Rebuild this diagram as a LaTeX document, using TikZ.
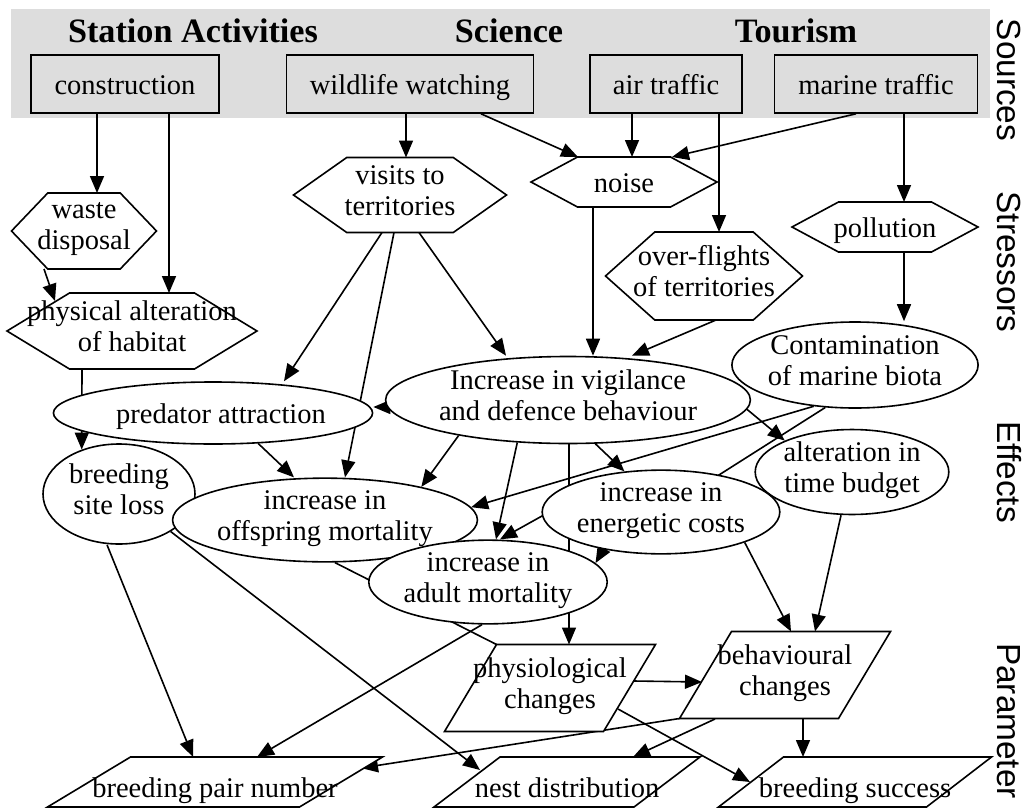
\documentclass[tikz,border=0pt]{standalone}
\usepackage{fontspec}
\setmainfont{Liberation Serif}
\setsansfont{Liberation Sans}
\usetikzlibrary{shapes.geometric}
\usetikzlibrary{arrows.meta}
\usetikzlibrary{calc}
\definecolor{bandgray}{RGB}{221,221,221}
\pgfdeclarelayer{band}
\pgfdeclarelayer{links}
\pgfdeclarelayer{shapes}
\pgfsetlayers{band,links,shapes,main}
\newcommand{\drawhex}[1]{\draw[outline] (#1.west) -- ($(#1.north west)!.25!(#1.north east)$) -- ($(#1.north west)!.75!(#1.north east)$) -- (#1.east) -- ($(#1.south west)!.75!(#1.south east)$) -- ($(#1.south west)!.25!(#1.south east)$) -- cycle;}
\newcommand{\drawpar}[2]{\draw[outline] (#1.south west) -- ([xshift=#2]#1.north west) -- (#1.north east) -- ([xshift=-#2]#1.south east) -- cycle;}

\begin{document}
\begin{tikzpicture}[x=1pt,y=-1pt,
  every node/.style={font=\fontsize{28.5}{31}\selectfont,align=center,inner sep=0pt,
    execute at begin node=\strut,execute at end node=\strut},
  one/.style={text height=24pt,text depth=3pt},
  low/.style={text height=30pt,text depth=0pt},
  dims/.style 2 args={minimum width=#1pt,minimum height=#2pt},
  title/.style={font=\fontsize{34.2}{36}\selectfont\bfseries,text height=24pt,text depth=6pt},
  level/.style={font=\sffamily\fontsize{33.4}{36}\selectfont,rotate=-90,text height=24pt,text depth=0pt},
  outline/.style={draw,fill=white,line width=1.6pt},
  source/.style={draw,fill=bandgray,line width=1.6pt,minimum height=58pt,one},
  stressor/.style={outer sep=0pt},
  effect/.style={ellipse,outline},
  param/.style={outer sep=0pt},
  link/.style={line width=1.6pt},
  arr/.style={link,-{Triangle[length=17pt,width=14pt]}}]
 \useasboundingbox (0,0) rectangle (1027,808);
 \begin{pgfonlayer}{band}
 \fill[bandgray] (11,9) rectangle (990,118);
 \end{pgfonlayer}

 \node[title] (stationtitle) at (193,34) {Station Activities};
 \node[title] (sciencetitle) at (509,34) {Science};
 \node[title] (tourismtitle) at (796,34) {Tourism};

 \node[source,minimum width=188pt] (construction) at (125,84) {construction};
 \node[source,minimum width=247pt] (wildlife) at (410,84) {wildlife watching};
 \node[source,minimum width=152pt] (air) at (666,84) {air traffic};
 \node[source,minimum width=203pt] (marine) at (876,84) {marine traffic};

 \node[stressor,dims={145}{76}] (waste) at (84,231) {waste\\disposal};
 \node[stressor,dims={250}{76}] (physical) at (132,331) {physical alteration\\of habitat};
 \node[stressor,dims={213}{75}] (visits) at (400,195) {visits to\\territories};
 \node[stressor,one,dims={186}{50}] (noise) at (624,182) {noise};
 \node[stressor,dims={197}{88}] (overflights) at (704,276) {over-flights\\of territories};
 \node[stressor,one,dims={186}{50}] (pollution) at (885,227) {pollution};

 \node[effect,dims={236}{86}] (contam) at (855,365) {Contamination\\of marine biota};
 \node[effect,dims={301}{87}] (vigil) at (568,400) {Increase in vigilance\\and defence behaviour};
 \node[effect,one,dims={239}{62}] (predator) at (213,413) {\hspace{16pt}predator attraction};
 \node[effect,dims={152}{100}] (siteloss) at (119,494) {breeding\\site loss};
 \node[effect,dims={263}{75}] (offspring) at (325,520) {increase in\\offspring mortality};
 \node[effect,dims={186}{81}] (timebudget) at (852,472) {alteration in\\time budget};
 \node[effect,dims={237}{71}] (energetic) at (661,512) {increase in\\energetic costs};
 \node[effect,dims={226}{70}] (adult) at (488,582) {increase in\\adult mortality};

 \node[param,dims={211}{87}] (physio) at (550,688) {physiological\\changes};
 \node[param,dims={211}{87}] (behav) at (785,675) {behavioural\\changes};
 \node[param,low,dims={335}{50}] (pairnum) at (215,782) {breeding pair number};
 \node[param,low,dims={266}{50}] (nest) at (567,782) {nest distribution};
 \node[param,low,dims={273}{50}] (success) at (855,782) {breeding success};

 \node[level] (sources) at (1009,80) {Sources};
 \node[level] (stressors) at (1009,262) {Stressors};
 \node[level] (effects) at (1009,472) {Effects};
 \node[level] (parameter) at (1009,721) {Parameter};

 \begin{pgfonlayer}{shapes}
 \drawhex{waste}
 \drawhex{physical}
 \drawhex{visits}
 \drawhex{noise}
 \drawhex{overflights}
 \drawhex{pollution}
 \drawpar{physio}{52pt}
 \drawpar{behav}{52pt}
 \drawpar{pairnum}{83pt}
 \drawpar{nest}{66pt}
 \drawpar{success}{65pt}
 \end{pgfonlayer}

 \begin{pgfonlayer}{links}
 \draw[arr] ([xshift=-28pt]construction.south) -- ([xshift=13pt]waste.north);
 \draw[arr] ([xshift=44pt]construction.south) -- ([xshift=37pt]physical.north);
 \draw[arr] ([xshift=-40pt]waste.south) -- ([xshift=-77pt,yshift=-8pt]physical.north);
 \draw[arr] ([xshift=-50pt]physical.south) -- (siteloss.130);
 \draw[arr] ([xshift=-4pt]wildlife.south) -- ([xshift=6pt]visits.north);
 \draw[arr] ([xshift=71pt]wildlife.south) -- ([xshift=-46pt]noise.north);
 \draw[arr] ([xshift=-34pt]air.south) -- ([xshift=8pt]noise.north);
 \draw[arr] ([xshift=-20pt]marine.south) -- ([xshift=48pt]noise.north);
 \draw[arr] ([xshift=53pt]air.south) -- ([xshift=15pt]overflights.north);
 \draw[arr] ([xshift=28pt]marine.south) -- ([xshift=19pt]pollution.north);
 \draw[arr] ([xshift=19pt]pollution.south) -- ([xshift=49pt]contam.north);
 \draw[arr] ([xshift=-18pt]visits.south) -- ([xshift=71pt]predator.north);
 \draw[arr] ([xshift=-6pt]visits.south) -- ([xshift=20pt]offspring.north);
 \draw[arr] ([xshift=19pt]visits.south) -- ([xshift=-62pt]vigil.north);
 \draw[arr] ([xshift=-31pt]noise.south) -- ([xshift=25pt]vigil.north);
 \draw[arr] ([xshift=12pt]overflights.south) -- ([xshift=64pt]vigil.north);
 \draw[arr] ([yshift=-7pt]vigil.west) -- ([yshift=6pt]predator.east);
 \draw[arr] (vigil.198) -- (offspring.19);
 \draw[arr] (vigil.220) -- ([xshift=8pt]adult.north);
 \draw[arr] ([xshift=1pt]vigil.south) -- ([xshift=19pt]physio.north);
 \draw[arr] (vigil.-58) -- (energetic.132);
 \draw[arr] (vigil.-3) -- (timebudget.155);
 \draw[arr] (contam.225) -- (offspring.5);
 \draw[arr] (contam.235) -- ([shift={(39,-25)}]energetic.center) -- ([shift={(-101,-6)}]energetic.center) -- ([xshift=12pt]adult.north);
 \draw[arr] (predator.-34) -- ([xshift=-31pt]offspring.north);
 \draw[arr] ([xshift=-12pt]siteloss.south) -- ([xshift=-22pt]pairnum.north);
 \draw[arr] (siteloss.-36) -- ([shift={(-87,-12)}]nest.center);
 \draw[link] ([xshift=10pt]offspring.south) -- ([xshift=52pt]physio.north west);
 \draw[arr] (energetic.213) -- (adult.10);
 \draw[arr] (energetic.-20) -- ([xshift=6pt]behav.north);
 \draw[arr] ([xshift=-11pt]timebudget.south) -- ([xshift=30pt]behav.north);
 \draw[arr] ([xshift=-6pt]adult.south) -- ([xshift=42pt]pairnum.north);
 \draw[arr] ([shift={(84,-7)}]physio.center) -- ([shift={(-83,7)}]behav.center);
 \draw[arr] ([shift={(68,21)}]physio.center) -- ([shift={(-105,0)}]success.center);
 \draw[arr] ([shift={(-70,44)}]behav.center) -- ([xshift=66pt]nest.north);
 \draw[arr] ([xshift=18pt]behav.south) -- ([xshift=-52pt]success.north);
 \draw[arr] (behav.south west) -- ([shift={(146,-14)}]pairnum.center);
 \end{pgfonlayer}
\end{tikzpicture}
\end{document}
